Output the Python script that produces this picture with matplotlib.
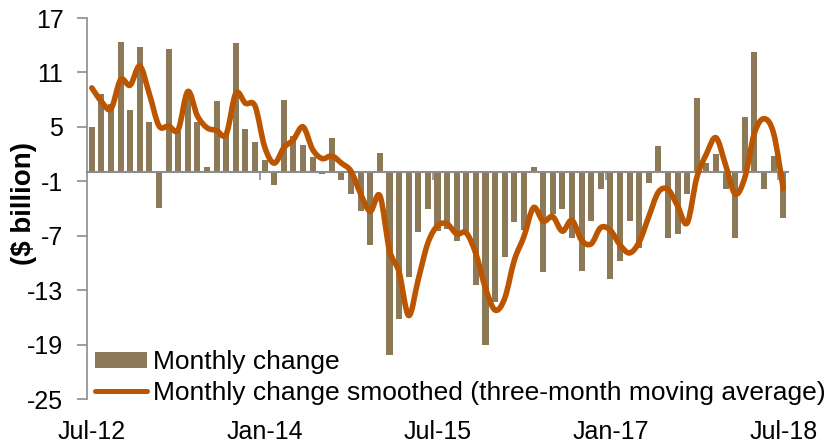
import numpy as np
import pandas as pd
import matplotlib
matplotlib.use("Agg")
import matplotlib.pyplot as plt
from matplotlib.path import Path
from matplotlib.patches import PathPatch

plt.rcParams["font.family"] = ["Liberation Sans", "DejaVu Sans"]
plt.rcParams["axes.unicode_minus"] = False

# monthly, Jul-12 .. Jul-18
months = pd.date_range("2012-07-01", "2018-07-01", freq="MS").strftime("%b-%y").tolist()

monthly_change = [5.0, 8.6, 7.5, 14.4, 6.9, 13.8, 5.5, -3.9, 13.6, 4.5, 8.5, 5.5, 0.6,
                  7.9, 4.1, 14.2, 4.8, 3.3, 1.4, -1.4, 8.0, 4.0, 3.0, 1.7, -0.2, 3.8,
                  -0.9, -2.4, -4.3, -8.0, 2.1, -20.1, -16.2, -11.5, -6.6, -4.1, -6.5,
                  -6.3, -7.6, -6.5, -12.4, -19.0, -14.3, -9.3, -5.5, -6.4, 0.6, -11.0,
                  -4.6, -4.0, -7.3, -10.9, -5.4, -1.9, -11.8, -9.8, -5.4, -8.3, -1.2,
                  2.9, -7.3, -6.8, -2.4, 8.2, 1.0, 2.0, -1.9, -7.2, 6.1, 13.2, -1.9,
                  1.8, -5.1]

smoothed = [9.3, 7.8, 7.0, 10.2, 9.6, 11.7, 8.6, 5.1, 5.1, 4.7, 8.9, 6.2, 4.9, 4.6,
            4.2, 8.7, 7.6, 7.3, 2.8, 1.0, 2.7, 3.6, 5.0, 2.5, 1.5, 1.8, 1.0, 0.1,
            -2.4, -4.3, -2.6, -8.6, -11.0, -15.8, -11.8, -7.8, -5.9, -5.7, -6.8,
            -6.7, -9.0, -12.8, -15.2, -13.9, -9.7, -7.1, -3.9, -5.4, -4.9, -6.5,
            -5.3, -7.5, -7.9, -6.1, -6.4, -8.0, -8.9, -7.7, -4.9, -2.2, -1.9, -3.7,
            -5.6, -0.6, 2.0, 3.8, 0.8, -2.4, -0.6, 4.3, 5.9, 4.3, -1.8]

label_months = ["Jul-12", "Jan-14", "Jul-15", "Jan-17", "Jul-18"]
yticks = [17, 11, 5, -1, -7, -13, -19, -25]

bar_color = "#8B7957"
line_color = "#BB5500"
axis_gray = "#8C8C8C"

fig = plt.figure(figsize=(8.4, 4.44), dpi=100)
ax = fig.add_axes([87 / 840, 1 - 399 / 444, 701 / 840, 381 / 444])

x = np.arange(len(months))
bars = ax.bar(x, monthly_change, width=0.63, color=bar_color, zorder=2,
              label="Monthly change")

# smooth curve (Excel-style) through the moving-average points
pts = np.column_stack([x, smoothed]).astype(float)
verts = [pts[0]]
codes = [Path.MOVETO]
n = len(pts)
for i in range(n - 1):
    p0 = pts[i - 1] if i > 0 else pts[i]
    p1 = pts[i]
    p2 = pts[i + 1]
    p3 = pts[i + 2] if i + 2 < n else pts[i + 1]
    verts += [p1 + (p2 - p0) / 6, p2 - (p3 - p1) / 6, p2]
    codes += [Path.CURVE4] * 3
ax.add_patch(PathPatch(Path(verts, codes), fill=False, edgecolor=line_color,
                       lw=4, capstyle="round", joinstyle="round", zorder=4))
line_handle, = ax.plot([], [], color=line_color, lw=3.6, solid_capstyle="round",
                       label="Monthly change smoothed (three-month moving average)")

ax.set_xlim(-0.5, len(months) - 0.5)
ax.set_ylim(-25, 17)
ax.set_yticks(yticks)
ax.tick_params(axis="y", direction="out", length=7, width=1.2, color=axis_gray,
               labelsize=18, pad=10)

for s in ["top", "right"]:
    ax.spines[s].set_visible(False)
ax.spines["left"].set_color(axis_gray)
ax.spines["left"].set_linewidth(1.2)
ax.spines["bottom"].set_position(("data", 0))
ax.spines["bottom"].set_color(axis_gray)
ax.spines["bottom"].set_linewidth(1.5)
ax.spines["bottom"].set_zorder(3)

# tick marks between categories every 18 months on the zero line
ax.set_xticks([17.5, 35.5, 53.5, 71.5])
ax.tick_params(axis="x", direction="out", length=6, width=1.2, color=axis_gray,
               labelbottom=False)

sec = ax.secondary_xaxis("bottom")
sec.set_xticks([months.index(m) for m in label_months], label_months)
sec.tick_params(length=0, labelsize=18, pad=15)
sec.spines["bottom"].set_visible(False)

ax.set_ylabel("($ billion)", fontsize=20, fontweight="bold")
ax.yaxis.set_label_coords(-0.071, 0.514)

ax.legend(handles=[bars, line_handle], loc="lower left",
          bbox_to_anchor=(0.011, -0.016), frameon=False,
          fontsize=19, borderpad=0, borderaxespad=0, handlelength=1.97,
          handleheight=0.55, handletextpad=0.23, labelspacing=0.25)

fig.savefig("out.png", dpi=100)
